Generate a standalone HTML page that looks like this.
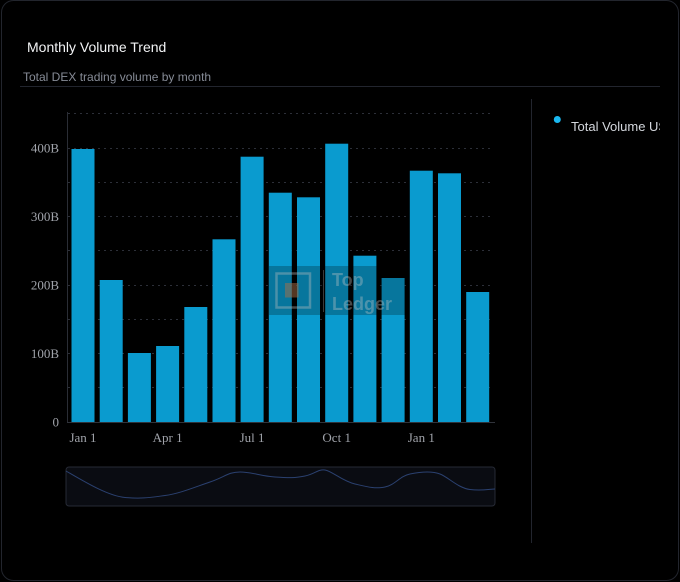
<!DOCTYPE html>
<html><head><meta charset="utf-8"><style>
html,body{margin:0;padding:0;background:#000;width:680px;height:582px;overflow:hidden}
</style></head><body>
<svg width="680" height="582" viewBox="0 0 680 582" xmlns="http://www.w3.org/2000/svg" style="display:block">
<rect x="0" y="0" width="680" height="582" fill="#000"/>
<rect x="1.5" y="0.5" width="677" height="580" rx="12" ry="12" fill="#000" stroke="#22252d" stroke-width="1"/>
<text x="27" y="52" font-family="Liberation Sans, sans-serif" font-size="14" fill="#f2f3f5">Monthly Volume Trend</text>
<text x="23" y="81" font-family="Liberation Sans, sans-serif" font-size="12" fill="#878c97">Total DEX trading volume by month</text>
<line x1="20" y1="86.5" x2="660" y2="86.5" stroke="#22252e" stroke-width="1"/>
<line x1="531.5" y1="99" x2="531.5" y2="543" stroke="#22252e" stroke-width="1"/>
<!-- grid -->
<g stroke="#2c2f38" stroke-width="1" stroke-dasharray="2,4">
<line x1="68" y1="113.5" x2="494" y2="113.5"/>
<line x1="68" y1="148.5" x2="494" y2="148.5"/>
<line x1="68" y1="182.5" x2="494" y2="182.5"/>
<line x1="68" y1="216.5" x2="494" y2="216.5"/>
<line x1="68" y1="250.5" x2="494" y2="250.5"/>
<line x1="68" y1="285.5" x2="494" y2="285.5"/>
<line x1="68" y1="319.5" x2="494" y2="319.5"/>
<line x1="68" y1="353.5" x2="494" y2="353.5"/>
<line x1="68" y1="387.5" x2="494" y2="387.5"/>
</g>
<line x1="67.5" y1="112" x2="67.5" y2="422" stroke="#2a2d35" stroke-width="1"/>
<!-- y labels -->
<g font-family="Liberation Serif, serif" font-size="13" fill="#a0a3aa" text-anchor="end">
<text x="59" y="426.5">0</text>
<text x="59" y="358">100B</text>
<text x="59" y="289.5">200B</text>
<text x="59" y="221">300B</text>
<text x="59" y="152.5">400B</text>
</g>
<!-- bars -->
<g fill="#0a9bcf">
<rect x="71.5" y="149" width="23" height="273"/>
<rect x="99.7" y="280" width="23" height="142"/>
<rect x="127.9" y="353" width="23" height="69"/>
<rect x="156.1" y="346" width="23" height="76"/>
<rect x="184.3" y="307" width="23" height="115"/>
<rect x="212.5" y="239.3" width="23" height="182.7"/>
<rect x="240.6" y="156.7" width="23" height="265.3"/>
<rect x="268.8" y="192.7" width="23" height="229.3"/>
<rect x="297.0" y="197.3" width="23" height="224.7"/>
<rect x="325.2" y="143.7" width="23" height="278.3"/>
<rect x="353.4" y="255.7" width="23" height="166.3"/>
<rect x="381.6" y="278" width="23" height="144"/>
<rect x="409.8" y="170.7" width="23" height="251.3"/>
<rect x="438.0" y="173.3" width="23" height="248.7"/>
<rect x="466.2" y="292" width="23" height="130"/>
</g>
<line x1="67" y1="422.5" x2="495" y2="422.5" stroke="#30333b" stroke-width="1"/>
<!-- x labels -->
<g font-family="Liberation Serif, serif" font-size="13" fill="#a0a3aa" text-anchor="middle">
<text x="83" y="442">Jan 1</text>
<text x="167.6" y="442">Apr 1</text>
<text x="252.1" y="442">Jul 1</text>
<text x="336.7" y="442">Oct 1</text>
<text x="421.3" y="442">Jan 1</text>
</g>
<!-- watermark -->
<rect x="269" y="266" width="136" height="49" fill="rgba(0,0,0,0.24)"/>
<rect x="276.5" y="273.5" width="33.5" height="34" fill="none" stroke="rgba(190,190,190,0.38)" stroke-width="2.5"/>
<rect x="285" y="283" width="13.5" height="14.5" fill="rgba(170,110,70,0.5)"/>
<line x1="323.5" y1="270" x2="323.5" y2="312" stroke="rgba(170,170,170,0.35)" stroke-width="1"/>
<g font-family="Liberation Sans, sans-serif" font-size="18" font-weight="bold" fill="rgba(200,200,200,0.36)">
<text x="332" y="286">Top</text>
<text x="332" y="310">Ledger</text>
</g>
<!-- slider -->
<rect x="66" y="467" width="429" height="39" rx="3" ry="3" fill="#0a0c12" stroke="#262a35" stroke-width="1"/>
<path d="M66,471 C85,482 108,496 125,497.5 S150,497.5 165,495.5 S195,487 210,482 S228,472 240,472 S260,476 275,477 S295,478 305,476 S318,469 325,470 S342,481 355,484 S375,489 385,487 S400,476 410,474 S432,471 440,474 S458,488 470,489.5 S490,489 495,489" fill="none" stroke="#2b4170" stroke-width="1"/>
<!-- legend -->
<circle cx="557.3" cy="119.5" r="3.5" fill="#1ab8f0"/>
<svg x="571" y="105" width="89" height="40" overflow="hidden">
<text x="0" y="26" font-family="Liberation Sans, sans-serif" font-size="13" fill="#d4d7dd">Total Volume USD</text>
</svg>
</svg>
</body></html>
